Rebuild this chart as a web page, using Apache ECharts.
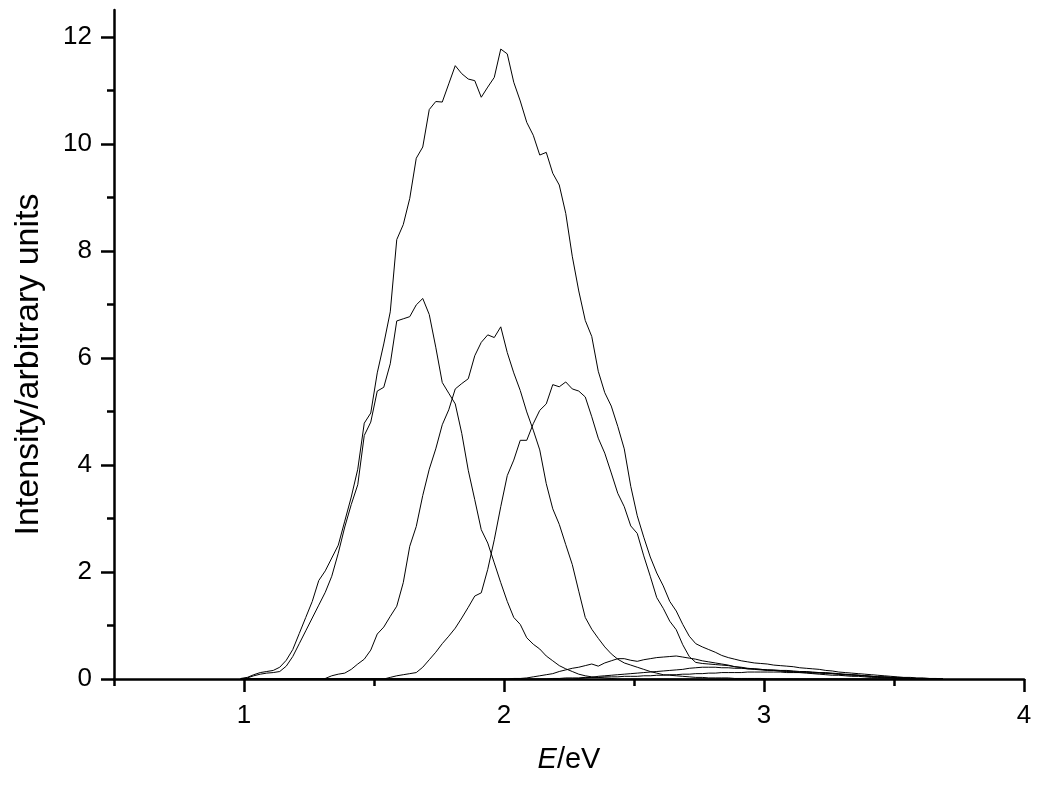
<!DOCTYPE html>
<html><head><meta charset="utf-8">
<script src="https://cdn.jsdelivr.net/npm/echarts@6/dist/echarts.min.js"></script>
<style>html,body{margin:0;padding:0;background:#fff;}#c{width:1037px;height:787px;}</style>
</head><body><div id="c"></div>
<script>
const energy = [
0.9875,1.0125,1.0375,1.0625,1.0875,1.1125,1.1375,1.1625,1.1875,1.2125,
1.2375,1.2625,1.2875,1.3125,1.3375,1.3625,1.3875,1.4125,1.4375,1.4625,
1.4875,1.5125,1.5375,1.5625,1.5875,1.6125,1.6375,1.6625,1.6875,1.7125,
1.7375,1.7625,1.7875,1.8125,1.8375,1.8625,1.8875,1.9125,1.9375,1.9625,
1.9875,2.0125,2.0375,2.0625,2.0875,2.1125,2.1375,2.1625,2.1875,2.2125,
2.2375,2.2625,2.2875,2.3125,2.3375,2.3625,2.3875,2.4125,2.4375,2.4625,
2.4875,2.5125,2.5375,2.5625,2.5875,2.6125,2.6375,2.6625,2.6875,2.7125,
2.7375,2.7625,2.7875,2.8125,2.8375,2.8625,2.8875,2.9125,2.9375,2.9625,
2.9875,3.0125,3.0375,3.0625,3.0875,3.1125,3.1375,3.1625,3.1875,3.2125,
3.2375,3.2625,3.2875,3.3125,3.3375,3.3625,3.3875,3.4125,3.4375,3.4625,
3.4875,3.5125,3.5375,3.5625,3.5875,3.6125,3.6375,3.6625,3.6875];

const total = [
0.01,0.03,0.08,0.12,0.14,0.16,0.22,0.35,0.55,0.85,
1.15,1.45,1.84,2.02,2.26,2.50,2.95,3.40,3.92,4.78,
4.97,5.72,6.26,6.86,8.21,8.49,8.98,9.73,9.94,10.64,
10.79,10.78,11.12,11.46,11.31,11.21,11.18,10.87,11.06,11.24,
11.77,11.68,11.15,10.80,10.40,10.16,9.79,9.84,9.45,9.23,
8.70,7.90,7.25,6.70,6.40,5.75,5.35,5.10,4.72,4.30,
3.60,3.05,2.65,2.28,1.98,1.74,1.45,1.27,1.02,0.80,
0.66,0.60,0.55,0.50,0.44,0.40,0.37,0.34,0.32,0.30,
0.29,0.28,0.26,0.25,0.24,0.23,0.21,0.20,0.19,0.18,
0.16,0.15,0.13,0.12,0.11,0.10,0.09,0.08,0.07,0.06,
0.05,0.04,0.03,0.03,0.02,0.02,0.01,0.01,0.00];

const bandA = [
0.00,0.02,0.06,0.09,0.11,0.12,0.14,0.24,0.42,0.66,
0.90,1.14,1.38,1.62,1.92,2.35,2.84,3.26,3.63,4.55,
4.80,5.38,5.45,5.89,6.69,6.73,6.77,6.99,7.11,6.81,
6.20,5.54,5.34,5.14,4.59,3.90,3.35,2.79,2.54,2.17,
1.80,1.45,1.15,1.02,0.77,0.65,0.56,0.43,0.34,0.25,
0.19,0.14,0.09,0.06,0.04,0.03,0.02,0.01,0,0,
0,0,0,0,0,0,0,0,0,0,
0,0,0,0,0,0,0,0,0,0,
0,0,0,0,0,0,0,0,0,0,
0,0,0,0,0,0,0,0,0,0,
0,0,0,0,0,0,0,0,0];

const bandB = [
0,0,0,0,0,0,0,0,0,0,
0,0,0,0.01,0.06,0.09,0.11,0.18,0.28,0.37,
0.54,0.84,0.97,1.17,1.36,1.80,2.48,2.85,3.43,3.92,
4.30,4.75,5.03,5.42,5.52,5.61,6.04,6.29,6.43,6.38,
6.58,6.10,5.72,5.39,4.99,4.65,4.28,3.65,3.18,2.89,
2.51,2.14,1.64,1.15,0.93,0.76,0.60,0.47,0.37,0.30,
0.26,0.22,0.18,0.14,0.11,0.08,0.07,0.06,0.05,0.04,
0.03,0.03,0.02,0.02,0.02,0.02,0.01,0.01,0.01,0.01,
0.01,0,0,0,0,0,0,0,0,0,
0,0,0,0,0,0,0,0,0,0,
0,0,0,0,0,0,0,0,0];

const bandC = [
0,0,0,0,0,0,0,0,0,0,
0,0,0,0,0,0,0,0,0,0,
0,0,0,0.03,0.06,0.08,0.10,0.12,0.22,0.36,
0.50,0.66,0.80,0.95,1.14,1.34,1.55,1.61,2.05,2.60,
3.22,3.80,4.09,4.46,4.46,4.77,5.02,5.14,5.50,5.46,
5.55,5.42,5.38,5.27,4.90,4.50,4.22,3.85,3.47,3.22,
2.86,2.72,2.30,1.92,1.52,1.32,1.08,0.92,0.64,0.42,
0.31,0.29,0.28,0.27,0.26,0.25,0.23,0.22,0.20,0.19,
0.18,0.17,0.16,0.15,0.14,0.13,0.12,0.11,0.10,0.09,
0.08,0.07,0.07,0.06,0.05,0.05,0.04,0.03,0.03,0.02,
0.02,0.01,0.01,0,0,0,0,0,0];

const bandD = [
0,0,0,0,0,0,0,0,0,0,
0,0,0,0,0,0,0,0,0,0,
0,0,0,0,0,0,0,0,0,0,
0,0,0,0,0,0,0,0,0,0,
0,0,0.01,0.01,0.02,0.04,0.06,0.08,0.10,0.14,
0.17,0.20,0.22,0.25,0.28,0.24,0.30,0.34,0.38,0.38,
0.35,0.33,0.36,0.38,0.40,0.41,0.42,0.43,0.41,0.39,
0.37,0.34,0.32,0.30,0.28,0.26,0.23,0.21,0.19,0.18,
0.17,0.16,0.16,0.15,0.15,0.14,0.13,0.13,0.12,0.12,
0.11,0.10,0.09,0.08,0.08,0.07,0.06,0.05,0.04,0.03,
0.03,0.02,0.02,0.01,0.01,0,0,0,0];

const bandE = [
0,0,0,0,0,0,0,0,0,0,
0,0,0,0,0,0,0,0,0,0,
0,0,0,0,0,0,0,0,0,0,
0,0,0,0,0,0,0,0,0,0,
0,0,0,0,0,0,0,0,0,0,
0,0,0.01,0.02,0.03,0.05,0.06,0.07,0.08,0.09,
0.10,0.11,0.12,0.13,0.14,0.15,0.16,0.17,0.18,0.20,
0.21,0.22,0.22,0.22,0.21,0.21,0.20,0.20,0.19,0.19,
0.18,0.17,0.17,0.16,0.16,0.15,0.14,0.14,0.13,0.12,
0.12,0.11,0.10,0.09,0.08,0.07,0.06,0.05,0.04,0.04,
0.03,0.02,0.02,0.01,0.01,0,0,0,0];

const bandF = [
0,0,0,0,0,0,0,0,0,0,
0,0,0,0,0,0,0,0,0,0,
0,0,0,0,0,0,0,0,0,0,
0,0,0,0,0,0,0,0,0,0,
0,0,0,0,0,0,0,0,0.01,0.01,
0.02,0.02,0.02,0.03,0.03,0.03,0.04,0.04,0.04,0.05,
0.05,0.05,0.06,0.06,0.07,0.07,0.08,0.08,0.09,0.09,
0.10,0.10,0.11,0.11,0.12,0.12,0.12,0.12,0.13,0.13,
0.13,0.13,0.13,0.13,0.12,0.12,0.12,0.12,0.11,0.11,
0.10,0.10,0.09,0.08,0.07,0.07,0.06,0.05,0.04,0.04,
0.03,0.03,0.02,0.02,0.01,0.01,0,0,0];

const xMajorTicks = [1, 2, 3, 4];
const xMinorTicks = [0.5, 1.5, 2.5, 3.5];
const yMajorTicks = [0, 2, 4, 6, 8, 10, 12];
const yMinorTicks = [1, 3, 5, 7, 9, 11];

const font = '"Liberation Sans", Arial, Helvetica, sans-serif';
const curves = [total, bandA, bandB, bandC, bandD, bandE, bandF];

const chart = echarts.init(document.getElementById('c'));
chart.setOption({
  animation: false,
  backgroundColor: '#fff',
  grid: { left: 114, right: 13, top: 10, bottom: 108 },
  xAxis: [{
    type: 'value', min: 0.5, max: 4, position: 'bottom',
    name: '{i|E}/eV', nameLocation: 'middle', nameGap: 66,
    nameTextStyle: { fontFamily: font, fontSize: 29, color: '#000',
      rich: { i: { fontStyle: 'italic', fontFamily: font, fontSize: 29, color: '#000' } } },
    axisLine: { show: true, onZero: false, lineStyle: { color: '#000', width: 2.5 } },
    axisTick: { show: true, length: 13, lineStyle: { color: '#000', width: 2.5 }, customValues: xMajorTicks },
    axisLabel: { show: true, customValues: xMajorTicks, fontFamily: font, fontSize: 26, color: '#000', margin: 24 },
    splitLine: { show: false }
  }, {
    type: 'value', min: 0.5, max: 4, position: 'bottom',
    axisLine: { show: false },
    axisTick: { show: true, length: 7, lineStyle: { color: '#000', width: 2.5 }, customValues: xMinorTicks },
    axisLabel: { show: false }, splitLine: { show: false }
  }],
  yAxis: [{
    type: 'value', min: 0, max: 12.5, position: 'left',
    name: 'Intensity/arbitrary units', nameLocation: 'middle', nameGap: 68,
    nameTextStyle: { fontFamily: font, fontSize: 34, color: '#000', padding: [0, 40, 0, 0] },
    axisLine: { show: true, onZero: false, lineStyle: { color: '#000', width: 2.5 } },
    axisTick: { show: true, length: 13, lineStyle: { color: '#000', width: 2.5 }, customValues: yMajorTicks },
    axisLabel: { show: true, customValues: yMajorTicks, fontFamily: font, fontSize: 26, color: '#000', margin: 22 },
    splitLine: { show: false }
  }, {
    type: 'value', min: 0, max: 12.5, position: 'left',
    axisLine: { show: false },
    axisTick: { show: true, length: 7, lineStyle: { color: '#000', width: 2.5 }, customValues: yMinorTicks },
    axisLabel: { show: false }, splitLine: { show: false }
  }],
  series: curves.map(function (vals) {
    return {
      type: 'line', xAxisIndex: 0, yAxisIndex: 0, symbol: 'none', silent: true,
      lineStyle: { color: '#000', width: 1 },
      data: energy.map(function (e, i) { return [e, vals[i]]; })
    };
  })
});
</script></body></html>
